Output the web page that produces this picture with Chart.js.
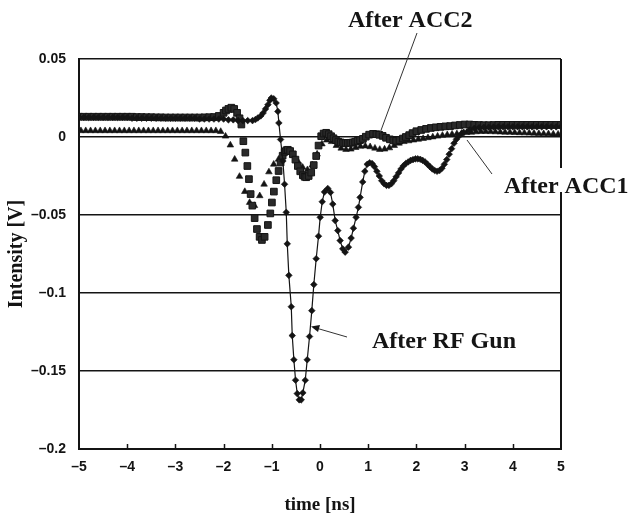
<!DOCTYPE html>
<html>
<head>
<meta charset="utf-8">
<title>Intensity vs time</title>
<script src="https://cdn.jsdelivr.net/npm/chart.js@4.4.1/dist/chart.umd.min.js"></script>
<style>
  html, body { margin: 0; padding: 0; background: #fff; }
  #wrap { width: 636px; height: 517px; }
</style>
</head>
<body>
<div id="wrap"><canvas id="pulseChart" width="636" height="517"></canvas></div>
<script>
// Values (time in ns, intensity in V)
const rfGunTime = [
  -5.0, -4.9, -4.8, -4.7, -4.6, -4.5, -4.4, -4.3, -4.2, -4.1,
  -4.0, -3.9, -3.8, -3.7, -3.6, -3.5, -3.4, -3.3, -3.2, -3.1,
  -3.0, -2.9, -2.8, -2.7, -2.6, -2.5, -2.4, -2.3, -2.2, -2.1,
  -2.0, -1.9, -1.8, -1.7, -1.6, -1.5, -1.4, -1.34, -1.29, -1.23,
  -1.18, -1.13, -1.08, -1.04, -1.01, -0.96, -0.91, -0.874, -0.853, -0.818,
  -0.77, -0.735, -0.70, -0.679, -0.646, -0.596, -0.576, -0.542, -0.507, -0.472,
  -0.43, -0.39, -0.356, -0.306, -0.265, -0.217, -0.17, -0.128, -0.079, -0.031,
  0.004, 0.046, 0.093, 0.161, 0.217, 0.265, 0.315, 0.369, 0.418, 0.472,
  0.522, 0.59, 0.646, 0.694, 0.749, 0.797, 0.832, 0.886, 0.93, 0.98,
  1.03, 1.08, 1.13, 1.18, 1.23, 1.28, 1.33, 1.38, 1.43, 1.48,
  1.53, 1.58, 1.63, 1.68, 1.73, 1.78, 1.83, 1.88, 1.93, 1.98,
  2.03, 2.08, 2.13, 2.18, 2.23, 2.28, 2.33, 2.38, 2.43, 2.48,
  2.53, 2.58, 2.63, 2.68, 2.73, 2.78, 2.83, 2.88, 2.93, 2.98,
  3.1, 3.2, 3.3, 3.4, 3.5, 3.6, 3.7, 3.8, 3.9, 4.0,
  4.1, 4.2, 4.3, 4.4, 4.5, 4.6, 4.7, 4.8, 4.9, 5.0
];
const rfGunIntensity = [
  0.0125, 0.0125, 0.0125, 0.0125, 0.0125, 0.0125, 0.0125, 0.0125, 0.0125, 0.0125,
  0.0125, 0.012, 0.012, 0.012, 0.012, 0.012, 0.012, 0.012, 0.012, 0.012,
  0.012, 0.012, 0.012, 0.012, 0.012, 0.0115, 0.0115, 0.0115, 0.0115, 0.0115,
  0.0115, 0.011, 0.011, 0.0105, 0.0105, 0.0105, 0.0105, 0.0112, 0.0122, 0.0135,
  0.0154, 0.018, 0.0207, 0.0235, 0.025, 0.0245, 0.0218, 0.0164, 0.009, -0.0016,
  -0.0154, -0.0303, -0.0483, -0.0685, -0.0887, -0.1088, -0.1273, -0.1428, -0.1559, -0.1645,
  -0.1685, -0.1685, -0.164, -0.1559, -0.1428, -0.1279, -0.1113, -0.0946, -0.078, -0.0636,
  -0.0515, -0.0415, -0.0352, -0.033, -0.0355, -0.043, -0.0536, -0.060, -0.0664, -0.0717,
  -0.0738, -0.0706, -0.0648, -0.0585, -0.0515, -0.0451, -0.0387, -0.0288, -0.022, -0.0175,
  -0.0165, -0.017, -0.019, -0.022, -0.025, -0.028, -0.030, -0.031, -0.031, -0.030,
  -0.028, -0.0255, -0.023, -0.0205, -0.0185, -0.017, -0.016, -0.015, -0.0145, -0.014,
  -0.014, -0.0143, -0.015, -0.016, -0.0175, -0.019, -0.0205, -0.0215, -0.022, -0.0215,
  -0.020, -0.0175, -0.0145, -0.011, -0.0075, -0.004, -0.0015, 0.0005, 0.002, 0.003,
  0.0045, 0.0055, 0.006, 0.0062, 0.0063, 0.0064, 0.0065, 0.0065, 0.0065, 0.0065,
  0.0065, 0.0065, 0.0065, 0.0065, 0.0065, 0.0065, 0.0065, 0.0065, 0.0065, 0.0065
];

const acc1Time = [
  -4.96, -4.86, -4.76, -4.66, -4.56, -4.46, -4.36, -4.26, -4.16, -4.06,
  -3.96, -3.86, -3.76, -3.66, -3.56, -3.46, -3.36, -3.26, -3.16, -3.06,
  -2.96, -2.86, -2.76, -2.66, -2.56, -2.46, -2.36, -2.26, -2.16, -2.06,
  -1.96, -1.86, -1.77, -1.67, -1.56, -1.46, -1.36, -1.25, -1.16, -1.06,
  -0.96, -0.86, -0.76, -0.66, -0.56, -0.46, -0.36, -0.26, -0.16, -0.06,
  0.04, 0.14, 0.24, 0.34, 0.44, 0.54, 0.64, 0.74, 0.84, 0.94,
  1.04, 1.14, 1.24, 1.34, 1.44, 1.54, 1.64, 1.74, 1.84, 1.94,
  2.04, 2.14, 2.24, 2.34, 2.44, 2.54, 2.64, 2.74, 2.84, 2.94,
  3.04, 3.14, 3.24, 3.34, 3.44, 3.54, 3.64, 3.74, 3.84, 3.94,
  4.04, 4.14, 4.24, 4.34, 4.44, 4.54, 4.64, 4.74, 4.84, 4.94
];
const acc1Intensity = [
  0.004, 0.004, 0.004, 0.004, 0.004, 0.004, 0.004, 0.004, 0.004, 0.004,
  0.004, 0.004, 0.004, 0.004, 0.004, 0.004, 0.004, 0.004, 0.004, 0.004,
  0.004, 0.004, 0.004, 0.004, 0.004, 0.004, 0.004, 0.004, 0.004, 0.0035,
  0.0005, -0.0052, -0.0143, -0.0253, -0.035, -0.042, -0.044, -0.0377, -0.0303, -0.0224,
  -0.0175, -0.0143, -0.011, -0.0098, -0.0115, -0.0155, -0.0195, -0.021, -0.018, -0.011,
  -0.0045, -0.002, -0.003, -0.0055, -0.0072, -0.008, -0.0078, -0.0068, -0.006, -0.0058,
  -0.0063, -0.0072, -0.008, -0.0078, -0.007, -0.0055, -0.004, -0.003, -0.0025, -0.002,
  -0.0015, -0.001, -0.0005, 0, 0.0005, 0.001, 0.0014, 0.0018, 0.002, 0.0024,
  0.0028, 0.003, 0.0033, 0.0035, 0.0035, 0.0034, 0.0033, 0.0032, 0.003, 0.003,
  0.0028, 0.0027, 0.0026, 0.0025, 0.0024, 0.0022, 0.0021, 0.002, 0.0019, 0.0018
];

const acc2Time = [
  -5.0, -4.9, -4.8, -4.7, -4.6, -4.5, -4.4, -4.3, -4.2, -4.1,
  -4.0, -3.9, -3.8, -3.7, -3.6, -3.5, -3.4, -3.3, -3.2, -3.1,
  -3.0, -2.9, -2.8, -2.7, -2.6, -2.5, -2.4, -2.3, -2.2, -2.1,
  -2.0, -1.95, -1.9, -1.84, -1.78, -1.72, -1.67, -1.631, -1.59, -1.549,
  -1.507, -1.474, -1.439, -1.404, -1.356, -1.308, -1.253, -1.205, -1.149, -1.081,
  -1.031, -0.998, -0.957, -0.907, -0.859, -0.818, -0.775, -0.735, -0.70, -0.667,
  -0.62, -0.563, -0.51, -0.46, -0.41, -0.356, -0.32, -0.286, -0.235, -0.182,
  -0.13, -0.079, -0.03, 0.025, 0.075, 0.128, 0.18, 0.23, 0.28, 0.33,
  0.38, 0.43, 0.48, 0.53, 0.58, 0.63, 0.68, 0.73, 0.78, 0.83,
  0.89, 0.95, 1.02, 1.1, 1.17, 1.23, 1.3, 1.37, 1.45, 1.52,
  1.58, 1.65, 1.72, 1.78, 1.85, 1.92, 2.0, 2.1, 2.2, 2.3,
  2.4, 2.5, 2.6, 2.7, 2.8, 2.9, 3.0, 3.1, 3.2, 3.3,
  3.4, 3.5, 3.6, 3.7, 3.8, 3.9, 4.0, 4.1, 4.2, 4.3,
  4.4, 4.5, 4.6, 4.7, 4.8, 4.9, 5.0
];
const acc2Intensity = [
  0.013, 0.013, 0.013, 0.013, 0.013, 0.013, 0.013, 0.013, 0.013, 0.013,
  0.013, 0.013, 0.0128, 0.0128, 0.0127, 0.0127, 0.0126, 0.0126, 0.0125, 0.0125,
  0.0125, 0.0125, 0.0125, 0.0125, 0.0125, 0.0125, 0.0126, 0.0127, 0.0128, 0.0135,
  0.0155, 0.017, 0.018, 0.0188, 0.018, 0.0155, 0.012, 0.008, -0.0027, -0.010,
  -0.0186, -0.027, -0.0366, -0.044, -0.052, -0.059, -0.064, -0.066, -0.064, -0.0564,
  -0.049, -0.042, -0.035, -0.0277, -0.0218, -0.0164, -0.012, -0.0095, -0.0085, -0.0082,
  -0.009, -0.0111, -0.0145, -0.0186, -0.022, -0.0245, -0.0255, -0.0258, -0.025, -0.0228,
  -0.018, -0.0122, -0.0055, 0.0005, 0.0022, 0.0027, 0.0018, 0.0005, -0.0008, -0.002,
  -0.003, -0.0035, -0.0038, -0.0038, -0.0038, -0.0037, -0.0035, -0.003, -0.0025, -0.002,
  -0.0012, 0.0002, 0.0015, 0.002, 0.0018, 0.0014, 0.0007, -0.0005, -0.0015, -0.0022,
  -0.0025, -0.002, -0.001, 0, 0.0012, 0.0025, 0.0037, 0.0045, 0.0052, 0.0058,
  0.0062, 0.0065, 0.0068, 0.007, 0.0074, 0.0077, 0.008, 0.008, 0.0078, 0.0077,
  0.0076, 0.0076, 0.0077, 0.0078, 0.0078, 0.0078, 0.0078, 0.0078, 0.0078, 0.0078,
  0.0078, 0.0078, 0.0078, 0.0078, 0.0078, 0.0078, 0.0078
];

const timeTicks = [-5, -4, -3, -2, -1, 0, 1, 2, 3, 4, 5];
const intensityTicks = [0.05, 0, -0.05, -0.1, -0.15, -0.2];

const ink = '#141414';
const toPoints = (xs, ys) => xs.map((x, i) => ({ x: x, y: ys[i] }));
const dashed = v => String(v).replace('-', '\u2013'); // long minus as in the original

// frame, inward x ticks and the hand-placed labels with their pointers
const decorations = {
  id: 'decorations',
  afterDraw(chart) {
    const { ctx, chartArea: a, scales: { x } } = chart;
    ctx.save();
    ctx.strokeStyle = ink;
    ctx.lineWidth = 2;
    ctx.beginPath();
    ctx.moveTo(a.right, a.top);
    ctx.lineTo(a.right, a.bottom);
    ctx.stroke();

    ctx.lineWidth = 1.5;
    timeTicks.slice(1, -1).forEach(t => {
      const px = Math.round(x.getPixelForValue(t)) + 0.5;
      ctx.beginPath();
      ctx.moveTo(px, a.bottom);
      ctx.lineTo(px, a.bottom - 5);
      ctx.stroke();
    });

    // pointer lines
    ctx.lineWidth = 1;
    ctx.strokeStyle = '#333';
    ctx.beginPath();
    ctx.moveTo(417, 33); ctx.lineTo(380, 133);
    ctx.moveTo(492, 174); ctx.lineTo(467, 140);
    ctx.moveTo(347, 337); ctx.lineTo(316, 328);
    ctx.stroke();
    // arrow head for RF Gun
    ctx.fillStyle = ink;
    ctx.beginPath();
    ctx.moveTo(311, 326.5);
    ctx.lineTo(320, 325);
    ctx.lineTo(318, 332);
    ctx.closePath();
    ctx.fill();

    ctx.font = 'bold 24px "Liberation Serif", "Times New Roman", serif';
    ctx.textBaseline = 'alphabetic';
    ctx.textAlign = 'left';
    ctx.fillStyle = '#fff';
    ctx.fillRect(500, 168, 136, 24);
    ctx.fillStyle = ink;
    ctx.fillText('After ACC2', 348, 27);
    ctx.fillText('After ACC1', 504, 193);
    ctx.fillText('After RF Gun', 372, 348);
    ctx.restore();
  }
};

const tickFont = size => ({ family: '"Liberation Sans", Arial, sans-serif', size: size, weight: 'bold' });
const titleFont = size => ({ family: '"Liberation Serif", "Times New Roman", serif', size: size, weight: 'bold' });

new Chart(document.getElementById('pulseChart').getContext('2d'), {
  type: 'scatter',
  data: {
    datasets: [
      {
        label: 'After RF Gun',
        data: toPoints(rfGunTime, rfGunIntensity),
        showLine: true,
        borderColor: ink,
        borderWidth: 1.2,
        backgroundColor: ink,
        pointStyle: 'rectRot',
        pointRadius: 3.3,
        pointBorderWidth: 0.6,
        order: 1
      },
      {
        label: 'After ACC1',
        data: toPoints(acc1Time, acc1Intensity),
        borderColor: ink,
        backgroundColor: ink,
        pointStyle: 'triangle',
        pointRadius: 3.8,
        pointBorderWidth: 0.6,
        order: 3
      },
      {
        label: 'After ACC2',
        data: toPoints(acc2Time, acc2Intensity),
        borderColor: ink,
        backgroundColor: '#2a2a2a',
        pointStyle: 'rect',
        pointRadius: 4.7,
        pointBorderWidth: 1,
        order: 2
      }
    ]
  },
  options: {
    responsive: false,
    animation: false,
    devicePixelRatio: 1,
    layout: { padding: { left: 0, top: 59, right: 75, bottom: 0 } },
    plugins: { legend: { display: false }, tooltip: { enabled: false } },
    scales: {
      x: {
        type: 'linear',
        min: -5,
        max: 5,
        afterBuildTicks: s => { s.ticks = timeTicks.map(v => ({ value: v })); },
        afterFit: s => { s.height = 68; },
        grid: { display: false, drawTicks: false },
        border: { color: ink, width: 2 },
        ticks: { padding: 10, color: ink, font: tickFont(14), callback: v => dashed(v) },
        title: { display: true, text: 'time [ns]', color: ink, font: titleFont(19), padding: { top: 0, bottom: 1 } }
      },
      y: {
        type: 'linear',
        min: -0.2,
        max: 0.05,
        afterBuildTicks: s => { s.ticks = intensityTicks.map(v => ({ value: v })); },
        afterFit: s => { s.width = 79; },
        grid: { color: ink, lineWidth: 1.5, drawTicks: false },
        border: { color: ink, width: 2 },
        ticks: { padding: 13, color: ink, font: tickFont(14), callback: v => dashed(v) },
        title: { display: true, text: 'Intensity [V]', color: ink, font: titleFont(20), padding: { top: 5, bottom: 0 } }
      }
    }
  },
  plugins: [decorations]
});
</script>
</body>
</html>
